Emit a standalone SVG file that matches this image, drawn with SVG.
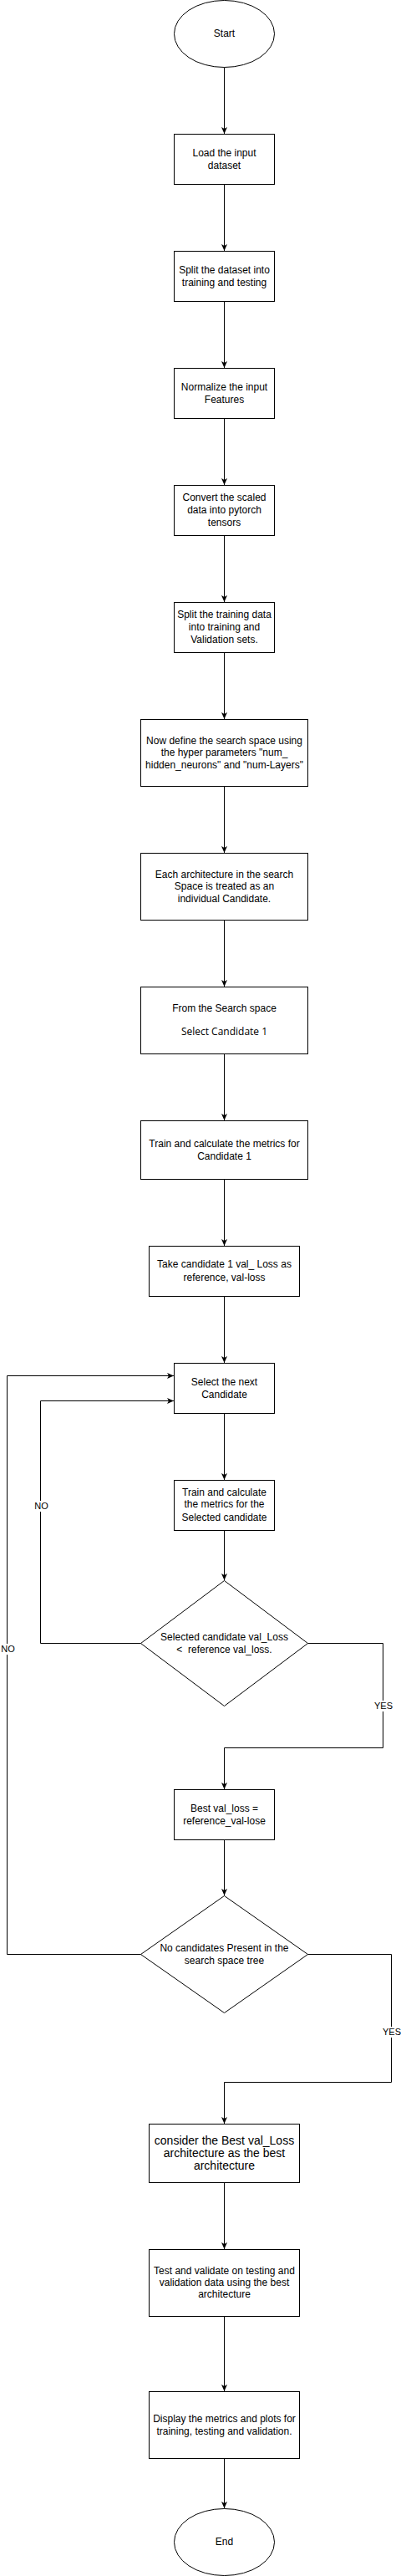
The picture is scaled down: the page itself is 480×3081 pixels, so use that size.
<svg xmlns="http://www.w3.org/2000/svg" width="480" height="3081" viewBox="0 0 480 3081">
<style>
.n{fill:#fff;stroke:#000;stroke-width:1}
.t{font-family:"Liberation Sans",Arial,sans-serif;font-size:12px;fill:#000;text-anchor:middle}
.c{fill:none;stroke:#000;stroke-width:1}
.l{font-family:"Liberation Sans",Arial,sans-serif;font-size:11px;fill:#000;text-anchor:middle}
.lb{fill:#fff;stroke:none}
</style>
<defs>
<marker id="a" markerUnits="userSpaceOnUse" markerWidth="8" markerHeight="8" viewBox="0 0 8 8" refX="8" refY="4" orient="auto">
<path d="M0,0.5 L8,4 L0,7.5 L2,4 Z" fill="#000"/>
</marker>
</defs>
<rect width="480" height="3081" fill="#fff"/>
<g id="connectors">
<path class="c" d="M268.5,80.5 V160" marker-end="url(#a)"/>
<path class="c" d="M268.5,220.5 V300" marker-end="url(#a)"/>
<path class="c" d="M268.5,360.5 V440" marker-end="url(#a)"/>
<path class="c" d="M268.5,500.5 V580" marker-end="url(#a)"/>
<path class="c" d="M268.5,640.5 V720" marker-end="url(#a)"/>
<path class="c" d="M268.5,780.5 V860" marker-end="url(#a)"/>
<path class="c" d="M268.5,940.5 V1020" marker-end="url(#a)"/>
<path class="c" d="M268.5,1100.5 V1180" marker-end="url(#a)"/>
<path class="c" d="M268.5,1260.5 V1340" marker-end="url(#a)"/>
<path class="c" d="M268.5,1410.5 V1490" marker-end="url(#a)"/>
<path class="c" d="M268.5,1550.5 V1630" marker-end="url(#a)"/>
<path class="c" d="M268.5,1690.5 V1770" marker-end="url(#a)"/>
<path class="c" d="M268.5,1830.5 V1890" marker-end="url(#a)"/>
<path class="c" d="M168.5,1965.5 H48.5 V1675.5 H208" marker-end="url(#a)"/>
<path class="c" d="M368.5,1965.5 H458.5 V2090.5 H268.5 V2140" marker-end="url(#a)"/>
<path class="c" d="M268.5,2200.5 V2267" marker-end="url(#a)"/>
<path class="c" d="M168.5,2337.5 H8.5 V1645.5 H208" marker-end="url(#a)"/>
<path class="c" d="M368.5,2337.5 H468.5 V2490.5 H268.5 V2540" marker-end="url(#a)"/>
<path class="c" d="M268.5,2610.5 V2690" marker-end="url(#a)"/>
<path class="c" d="M268.5,2770.5 V2860" marker-end="url(#a)"/>
<path class="c" d="M268.5,2940.5 V3000" marker-end="url(#a)"/>
<rect class="lb" x="41" y="1795" width="17" height="13"/>
<text class="l" x="49.5" y="1805">NO</text>
<rect class="lb" x="1" y="1966" width="17" height="13"/>
<text class="l" x="9.5" y="1976">NO</text>
<rect class="lb" x="449" y="2034" width="20" height="13"/>
<text class="l" x="459" y="2044">YES</text>
<rect class="lb" x="459" y="2424" width="21" height="13"/>
<text class="l" x="469" y="2434">YES</text>
</g>
<g id="start"><ellipse class="n" cx="268.5" cy="40.5" rx="60" ry="40"/><text class="t" x="268.5" y="44">Start</text></g>
<g id="load"><rect class="n" x="208.5" y="160.5" width="120" height="60"/><text class="t" x="268.5" y="186.7">Load the input</text><text class="t" x="268.5" y="201.7">dataset</text></g>
<g id="split"><rect class="n" x="208.5" y="300.5" width="120" height="60"/><text class="t" x="268.5" y="326.7">Split the dataset into</text><text class="t" x="268.5" y="341.7">training and testing</text></g>
<g id="normalize"><rect class="n" x="208.5" y="440.5" width="120" height="60"/><text class="t" x="268.5" y="466.7">Normalize the input</text><text class="t" x="268.5" y="481.7">Features</text></g>
<g id="convert"><rect class="n" x="208.5" y="580.5" width="120" height="60"/><text class="t" x="268.5" y="599.3">Convert the scaled</text><text class="t" x="268.5" y="613.7">data into pytorch</text><text class="t" x="268.5" y="628.7">tensors</text></g>
<g id="splittrain"><rect class="n" x="208.5" y="720.5" width="120" height="60"/><text class="t" x="268.5" y="739.3">Split the training data</text><text class="t" x="268.5" y="753.7">into training and</text><text class="t" x="268.5" y="768.7">Validation sets.</text></g>
<g id="define"><rect class="n" x="168.5" y="860.5" width="200" height="80"/><text class="t" x="268.5" y="890">Now define the search space using</text><text class="t" x="268.5" y="904">the hyper parameters "num_</text><text class="t" x="268.5" y="918.7">hidden_neurons" and "num-Layers"</text></g>
<g id="each"><rect class="n" x="168.5" y="1020.5" width="200" height="80"/><text class="t" x="268.5" y="1049.7">Each architecture in the search</text><text class="t" x="268.5" y="1063.7">Space is treated as an</text><text class="t" x="268.5" y="1078.7">individual Candidate.</text></g>
<g id="from"><rect class="n" x="168.5" y="1180.5" width="200" height="80"/><text class="t" x="268.5" y="1209.7">From the Search space</text><text class="t" x="268.5" y="1238" style="font-family:'Open Sans',sans-serif;font-size:12px">Select Candidate 1</text></g>
<g id="train1"><rect class="n" x="168.5" y="1340.5" width="200" height="70"/><text class="t" x="268.5" y="1371.7">Train and calculate the metrics for</text><text class="t" x="268.5" y="1386.7">Candidate 1</text></g>
<g id="take"><rect class="n" x="178.5" y="1490.5" width="180" height="60"/><text class="t" x="268.5" y="1516.3">Take candidate 1 val_ Loss as</text><text class="t" x="268.5" y="1531.7">reference, val-loss</text></g>
<g id="selectnext"><rect class="n" x="208.5" y="1630.5" width="120" height="60"/><text class="t" x="268.5" y="1656.7">Select the next</text><text class="t" x="268.5" y="1671.7">Candidate</text></g>
<g id="trainsel"><rect class="n" x="208.5" y="1770.5" width="120" height="60"/><text class="t" x="268.5" y="1789.3">Train and calculate</text><text class="t" x="268.5" y="1803.3">the metrics for the</text><text class="t" x="268.5" y="1818.7">Selected candidate</text></g>
<g id="decision1"><polygon class="n" points="268.5,1890.5 368.5,1965.5 268.5,2040.5 168.5,1965.5"/><text class="t" x="268.5" y="1961.7">Selected candidate val_Loss</text><text class="t" x="268.5" y="1977">&lt; &#160;reference val_loss.</text></g>
<g id="best"><rect class="n" x="208.5" y="2140.5" width="120" height="60"/><text class="t" x="268.5" y="2167">Best val_loss =</text><text class="t" x="268.5" y="2182">reference_val-lose</text></g>
<g id="decision2"><polygon class="n" points="268.5,2267.5 368.5,2337.5 268.5,2407.5 168.5,2337.5"/><text class="t" x="268.5" y="2333.7">No candidates Present in the</text><text class="t" x="268.5" y="2348.7">search space tree</text></g>
<g id="consider"><rect class="n" x="178.5" y="2540.5" width="180" height="70"/><text class="t" x="268.5" y="2565" style="font-size:14px">consider the Best val_Loss</text><text class="t" x="268.5" y="2580" style="font-size:14px">architecture as the best</text><text class="t" x="268.5" y="2595" style="font-size:14px">architecture</text></g>
<g id="test"><rect class="n" x="178.5" y="2690.5" width="180" height="80"/><text class="t" x="268.5" y="2719.7">Test and validate on testing and</text><text class="t" x="268.5" y="2733.7">validation data using the best</text><text class="t" x="268.5" y="2748.3">architecture</text></g>
<g id="display"><rect class="n" x="178.5" y="2860.5" width="180" height="80"/><text class="t" x="268.5" y="2896.7">Display the metrics and plots for</text><text class="t" x="268.5" y="2911.7">training, testing and validation.</text></g>
<g id="end"><ellipse class="n" cx="268.5" cy="3040.5" rx="60" ry="40"/><text class="t" x="268.5" y="3043.5">End</text></g>
</svg>
